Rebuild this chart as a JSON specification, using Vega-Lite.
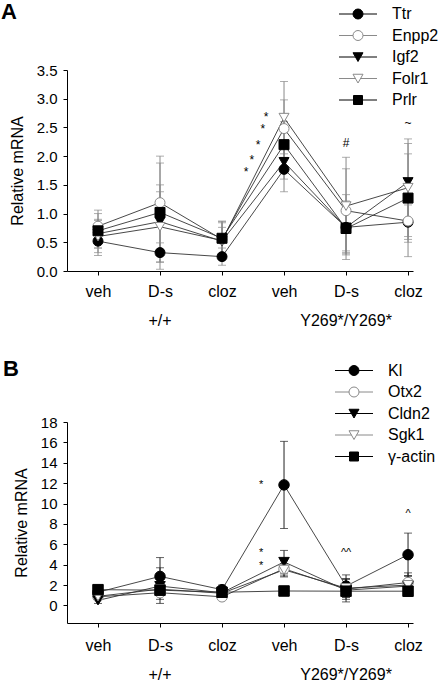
{
  "$schema": "https://vega.github.io/schema/vega-lite/v6.json",
  "padding": {"left": 1, "top": 1, "right": 0, "bottom": 0},
  "config": {
    "font": "Liberation Sans",
    "view": {"stroke": null},
    "axis": {"grid": false, "domainColor": "#000", "tickColor": "#000", "labelColor": "#000", "titleColor": "#000", "labelFontSize": 16, "titleFontSize": 16, "titleFontWeight": "normal", "labelFont": "Liberation Sans", "titleFont": "Liberation Sans", "labelOverlap": false},
    "legend": {"labelFontSize": 16, "labelColor": "#000", "labelFont": "Liberation Sans", "orient": "none", "rowPadding": 5.5, "labelOffset": 26, "symbolStrokeWidth": 1, "symbolSize": 100, "symbolOpacity": 1},
    "title": {"font": "Liberation Sans", "fontSize": 22, "fontWeight": "bold", "color": "#000"}
  },
  "datasets": {
    "A": [
      {"x": 1, "g": "Ttr", "mean": 0.52, "lo": 0.27, "hi": 0.77},
      {"x": 1, "g": "Enpp2", "mean": 0.78, "lo": 0.5, "hi": 1.06},
      {"x": 1, "g": "Igf2", "mean": 0.65, "lo": 0.4, "hi": 0.9},
      {"x": 1, "g": "Folr1", "mean": 0.6, "lo": 0.32, "hi": 0.88},
      {"x": 1, "g": "Prlr", "mean": 0.7, "lo": 0.4, "hi": 1.0},
      {"x": 2, "g": "Ttr", "mean": 0.32, "lo": 0.15, "hi": 0.49},
      {"x": 2, "g": "Enpp2", "mean": 1.19, "lo": 0.38, "hi": 2.0},
      {"x": 2, "g": "Igf2", "mean": 0.86, "lo": 0.35, "hi": 1.38},
      {"x": 2, "g": "Folr1", "mean": 0.77, "lo": 0.03, "hi": 1.5},
      {"x": 2, "g": "Prlr", "mean": 1.02, "lo": 0.16, "hi": 1.88},
      {"x": 3, "g": "Ttr", "mean": 0.25, "lo": 0.1, "hi": 0.4},
      {"x": 3, "g": "Enpp2", "mean": 0.55, "lo": 0.25, "hi": 0.86},
      {"x": 3, "g": "Igf2", "mean": 0.52, "lo": 0.2, "hi": 0.84},
      {"x": 3, "g": "Folr1", "mean": 0.53, "lo": 0.3, "hi": 0.76},
      {"x": 3, "g": "Prlr", "mean": 0.57, "lo": 0.27, "hi": 0.87},
      {"x": 4, "g": "Ttr", "mean": 1.77, "lo": 1.38, "hi": 2.16},
      {"x": 4, "g": "Enpp2", "mean": 2.48, "lo": 1.98, "hi": 2.98},
      {"x": 4, "g": "Igf2", "mean": 1.9, "lo": 1.6, "hi": 2.2},
      {"x": 4, "g": "Folr1", "mean": 2.67, "lo": 2.04, "hi": 3.3},
      {"x": 4, "g": "Prlr", "mean": 2.2, "lo": 1.8, "hi": 2.6},
      {"x": 5, "g": "Ttr", "mean": 0.76, "lo": 0.35, "hi": 1.17},
      {"x": 5, "g": "Enpp2", "mean": 1.05, "lo": 0.32, "hi": 1.78},
      {"x": 5, "g": "Igf2", "mean": 0.76, "lo": 0.3, "hi": 1.22},
      {"x": 5, "g": "Folr1", "mean": 1.13, "lo": 0.28, "hi": 1.98},
      {"x": 5, "g": "Prlr", "mean": 0.74, "lo": 0.2, "hi": 1.33},
      {"x": 6, "g": "Ttr", "mean": 0.85, "lo": 0.55, "hi": 1.15},
      {"x": 6, "g": "Enpp2", "mean": 0.87, "lo": 0.25, "hi": 1.49},
      {"x": 6, "g": "Igf2", "mean": 1.55, "lo": 0.8, "hi": 2.3},
      {"x": 6, "g": "Folr1", "mean": 1.45, "lo": 0.6, "hi": 2.22},
      {"x": 6, "g": "Prlr", "mean": 1.27, "lo": 0.5, "hi": 2.04}
    ],
    "B": [
      {"x": 1, "g": "Kl", "mean": 1.3, "lo": 1.0, "hi": 1.6},
      {"x": 1, "g": "Otx2", "mean": 0.85, "lo": 0.6, "hi": 1.1},
      {"x": 1, "g": "Cldn2", "mean": 0.5, "lo": 0.2, "hi": 0.8},
      {"x": 1, "g": "Sgk1", "mean": 0.9, "lo": 0.6, "hi": 1.2},
      {"x": 1, "g": "γ-actin", "mean": 1.55, "lo": 1.3, "hi": 1.8},
      {"x": 2, "g": "Kl", "mean": 2.85, "lo": 1.0, "hi": 4.7},
      {"x": 2, "g": "Otx2", "mean": 1.25, "lo": 0.6, "hi": 1.9},
      {"x": 2, "g": "Cldn2", "mean": 1.9, "lo": 0.2, "hi": 3.7},
      {"x": 2, "g": "Sgk1", "mean": 1.6, "lo": 1.0, "hi": 2.2},
      {"x": 2, "g": "γ-actin", "mean": 1.5, "lo": 1.2, "hi": 1.8},
      {"x": 3, "g": "Kl", "mean": 1.55, "lo": 1.1, "hi": 2.0},
      {"x": 3, "g": "Otx2", "mean": 0.85, "lo": 0.6, "hi": 1.1},
      {"x": 3, "g": "Cldn2", "mean": 1.25, "lo": 1.0, "hi": 1.5},
      {"x": 3, "g": "Sgk1", "mean": 1.2, "lo": 0.9, "hi": 1.5},
      {"x": 3, "g": "γ-actin", "mean": 1.3, "lo": 1.0, "hi": 1.6},
      {"x": 4, "g": "Kl", "mean": 11.83, "lo": 7.55, "hi": 16.1},
      {"x": 4, "g": "Otx2", "mean": 3.6, "lo": 2.8, "hi": 4.4},
      {"x": 4, "g": "Cldn2", "mean": 4.27, "lo": 3.1, "hi": 5.4},
      {"x": 4, "g": "Sgk1", "mean": 3.5, "lo": 2.9, "hi": 4.1},
      {"x": 4, "g": "γ-actin", "mean": 1.42, "lo": 1.2, "hi": 1.65},
      {"x": 5, "g": "Kl", "mean": 1.9, "lo": 0.8, "hi": 3.0},
      {"x": 5, "g": "Otx2", "mean": 1.6, "lo": 0.6, "hi": 2.6},
      {"x": 5, "g": "Cldn2", "mean": 1.5, "lo": 0.35, "hi": 2.6},
      {"x": 5, "g": "Sgk1", "mean": 1.7, "lo": 0.8, "hi": 2.6},
      {"x": 5, "g": "γ-actin", "mean": 1.4, "lo": 1.1, "hi": 1.7},
      {"x": 6, "g": "Kl", "mean": 4.98, "lo": 2.9, "hi": 7.1},
      {"x": 6, "g": "Otx2", "mean": 2.25, "lo": 1.3, "hi": 3.2},
      {"x": 6, "g": "Cldn2", "mean": 1.9, "lo": 0.9, "hi": 2.9},
      {"x": 6, "g": "Sgk1", "mean": 2.0, "lo": 1.1, "hi": 2.9},
      {"x": 6, "g": "γ-actin", "mean": 1.4, "lo": 1.0, "hi": 1.8}
    ],
    "groups": [
      {"x": 2, "label": "+/+"},
      {"x": 5, "label": "Y269*/Y269*"}
    ],
    "annA": [
      {"x": 3.39, "y": 1.72, "t": "*"},
      {"x": 3.48, "y": 1.94, "t": "*"},
      {"x": 3.58, "y": 2.19, "t": "*"},
      {"x": 3.66, "y": 2.47, "t": "*"},
      {"x": 3.71, "y": 2.68, "t": "*"},
      {"x": 5, "y": 2.23, "t": "#"},
      {"x": 6, "y": 2.58, "t": "~"}
    ],
    "annB": [
      {"x": 3.63, "y": 11.8, "t": "*"},
      {"x": 3.63, "y": 5.1, "t": "*"},
      {"x": 3.63, "y": 3.9, "t": "*"},
      {"x": 5, "y": 5.1, "t": "^^"},
      {"x": 6, "y": 8.95, "t": "^"}
    ]
  },
  "spacing": 28,
  "vconcat": [
    {
      "width": 346,
      "height": 201,
      "title": {"text": "A", "anchor": "start", "frame": "group", "dx": -66, "offset": -18},
      "encoding": {
        "x": {"field": "x", "type": "quantitative", "scale": {"domain": [0.5, 6.08], "nice": false, "zero": false},
          "axis": {"values": [1, 2, 3, 4, 5, 6], "tickCount": 20, "labelExpr": "['veh','D-s','cloz','veh','D-s','cloz'][datum.value - 1]", "tickSize": 4, "labelPadding": 8, "title": null}}
      },
      "resolve": {"scale": {"shape": "independent", "fill": "independent", "stroke": "independent"}},
      "layer": [
        {
          "mark": {"type": "rule", "color": "#000", "strokeWidth": 1},
          "encoding": {
            "x": {"datum": 3.5, "type": "quantitative"},
            "y": {"datum": 0, "type": "quantitative", "scale": {"domain": [0, 3.5], "nice": false, "zero": false},
              "axis": {"values": [0, 0.5, 1, 1.5, 2, 2.5, 3, 3.5], "tickCount": 20, "format": ".1f", "tickSize": 4, "labelPadding": 6, "labelFontSize": 15, "labelOverlap": false, "title": "Relative mRNA", "titlePadding": 11}},
            "y2": {"datum": -0.61}
          }
        },
        {
          "data": {"name": "groups"},
          "mark": {"type": "text", "fontSize": 16, "color": "#000", "baseline": "middle"},
          "encoding": {
            "y": {"datum": -0.87, "type": "quantitative", "scale": {"domain": [0, 3.5], "nice": false, "zero": false}},
            "text": {"field": "label"}
          }
        },
        {
          "data": {"name": "A"},
          "mark": {"type": "rule", "color": "#8a8a8a", "strokeWidth": 1},
          "encoding": {
            "y": {"field": "lo", "type": "quantitative", "scale": {"domain": [0, 3.5], "nice": false, "zero": false}},
            "y2": {"field": "hi"}
          }
        },
        {
          "data": {"name": "A"},
          "mark": {"type": "tick", "orient": "horizontal", "size": 8, "thickness": 1, "color": "#8a8a8a"},
          "encoding": {
            "y": {"field": "lo", "type": "quantitative", "scale": {"domain": [0, 3.5], "nice": false, "zero": false}}
          }
        },
        {
          "data": {"name": "A"},
          "mark": {"type": "tick", "orient": "horizontal", "size": 8, "thickness": 1, "color": "#8a8a8a"},
          "encoding": {
            "y": {"field": "hi", "type": "quantitative", "scale": {"domain": [0, 3.5], "nice": false, "zero": false}}
          }
        },
        {
          "data": {"name": "A"},
          "mark": {"type": "line", "color": "#333", "strokeWidth": 0.9},
          "encoding": {
            "y": {"field": "mean", "type": "quantitative", "scale": {"domain": [0, 3.5], "nice": false, "zero": false}},
            "detail": {"field": "g"}
          }
        },
        {
          "data": {"name": "A"},
          "mark": {"type": "point", "size": 100, "strokeWidth": 1, "opacity": 1},
          "encoding": {
            "y": {"field": "mean", "type": "quantitative", "scale": {"domain": [0, 3.5], "nice": false, "zero": false}},
            "shape": {"field": "g", "type": "nominal", "legend": null,
              "scale": {"domain": ["Ttr", "Enpp2", "Igf2", "Folr1", "Prlr"], "range": ["circle", "circle", "triangle-down", "triangle-down", "square"]}},
            "fill": {"field": "g", "type": "nominal", "legend": null,
              "scale": {"domain": ["Ttr", "Enpp2", "Igf2", "Folr1", "Prlr"], "range": ["#000", "#fff", "#000", "#fff", "#000"]}},
            "stroke": {"field": "g", "type": "nominal", "legend": null,
              "scale": {"domain": ["Ttr", "Enpp2", "Igf2", "Folr1", "Prlr"], "range": ["#000", "#8a8a8a", "#000", "#8a8a8a", "#000"]}}
          }
        },
        {
          "data": {"name": "A"},
          "mark": {"type": "point", "size": 100, "strokeWidth": 1, "opacity": 0},
          "encoding": {
            "y": {"field": "mean", "type": "quantitative", "scale": {"domain": [0, 3.5], "nice": false, "zero": false}},
            "shape": {"field": "g", "type": "nominal", "title": null,
              "scale": {"domain": ["Ttr", "Enpp2", "Igf2", "Folr1", "Prlr"], "range": ["M-3.8,0H-1M1,0A1,1,0,1,0,-1,0A1,1,0,1,0,1,0M1,0H3.8", "M-3.8,0H-1M1,0A1,1,0,1,0,-1,0A1,1,0,1,0,1,0M1,0H3.8", "M-3.8,0H-0.5M0.5,0H3.8M-1,-0.85L1,-0.85L0,0.9Z", "M-3.8,0H-0.5M0.5,0H3.8M-1,-0.85L1,-0.85L0,0.9Z", "M-3.8,0H-0.9M0.9,0H3.8M-0.9,-0.9H0.9V0.9H-0.9Z"]},
              "legend": {"legendX": 283, "legendY": -64, "symbolOpacity": 1}},
            "fill": {"field": "g", "type": "nominal", "title": null,
              "scale": {"domain": ["Ttr", "Enpp2", "Igf2", "Folr1", "Prlr"], "range": ["#000", "#fff", "#000", "#fff", "#000"]},
              "legend": {"legendX": 283, "legendY": -64, "symbolOpacity": 1}},
            "stroke": {"field": "g", "type": "nominal", "title": null,
              "scale": {"domain": ["Ttr", "Enpp2", "Igf2", "Folr1", "Prlr"], "range": ["#000", "#8a8a8a", "#000", "#8a8a8a", "#000"]},
              "legend": {"legendX": 283, "legendY": -64, "symbolOpacity": 1}}
          }
        },
        {
          "data": {"name": "annA"},
          "mark": {"type": "text", "fontSize": 12, "color": "#000", "baseline": "middle"},
          "encoding": {
            "y": {"field": "y", "type": "quantitative", "scale": {"domain": [0, 3.5], "nice": false, "zero": false}},
            "text": {"field": "t"}
          }
        }
      ]
    },
    {
      "width": 346,
      "height": 201,
      "title": {"text": "B", "anchor": "start", "frame": "group", "dx": -64, "offset": -18},
      "encoding": {
        "x": {"field": "x", "type": "quantitative", "scale": {"domain": [0.5, 6.08], "nice": false, "zero": false},
          "axis": {"values": [1, 2, 3, 4, 5, 6], "tickCount": 20, "labelExpr": "['veh','D-s','cloz','veh','D-s','cloz'][datum.value - 1]", "tickSize": 4, "labelPadding": 10, "title": null}}
      },
      "resolve": {"scale": {"shape": "independent", "fill": "independent", "stroke": "independent"}},
      "layer": [
        {
          "mark": {"type": "rule", "color": "#000", "strokeWidth": 1},
          "encoding": {
            "x": {"datum": 3.5, "type": "quantitative"},
            "y": {"datum": -1.72, "type": "quantitative", "scale": {"domain": [-1.72, 18], "nice": false, "zero": false},
              "axis": {"values": [0, 2, 4, 6, 8, 10, 12, 14, 16, 18], "tickCount": 20, "tickSize": 4, "labelPadding": 6, "labelFontSize": 15, "labelOverlap": false, "title": "Relative mRNA", "titlePadding": 11}},
            "y2": {"datum": -5.25}
          }
        },
        {
          "data": {"name": "groups"},
          "mark": {"type": "text", "fontSize": 16, "color": "#000", "baseline": "middle"},
          "encoding": {
            "y": {"datum": -6.85, "type": "quantitative", "scale": {"domain": [-1.72, 18], "nice": false, "zero": false}},
            "text": {"field": "label"}
          }
        },
        {
          "data": {"name": "B"},
          "mark": {"type": "rule", "color": "#222", "strokeWidth": 1},
          "encoding": {
            "y": {"field": "lo", "type": "quantitative", "scale": {"domain": [-1.72, 18], "nice": false, "zero": false}},
            "y2": {"field": "hi"}
          }
        },
        {
          "data": {"name": "B"},
          "mark": {"type": "tick", "orient": "horizontal", "size": 8, "thickness": 1, "color": "#222"},
          "encoding": {
            "y": {"field": "lo", "type": "quantitative", "scale": {"domain": [-1.72, 18], "nice": false, "zero": false}}
          }
        },
        {
          "data": {"name": "B"},
          "mark": {"type": "tick", "orient": "horizontal", "size": 8, "thickness": 1, "color": "#222"},
          "encoding": {
            "y": {"field": "hi", "type": "quantitative", "scale": {"domain": [-1.72, 18], "nice": false, "zero": false}}
          }
        },
        {
          "data": {"name": "B"},
          "mark": {"type": "line", "color": "#333", "strokeWidth": 0.9},
          "encoding": {
            "y": {"field": "mean", "type": "quantitative", "scale": {"domain": [-1.72, 18], "nice": false, "zero": false}},
            "detail": {"field": "g"}
          }
        },
        {
          "data": {"name": "B"},
          "mark": {"type": "point", "size": 110, "strokeWidth": 1, "opacity": 1},
          "encoding": {
            "y": {"field": "mean", "type": "quantitative", "scale": {"domain": [-1.72, 18], "nice": false, "zero": false}},
            "shape": {"field": "g", "type": "nominal", "legend": null,
              "scale": {"domain": ["Kl", "Otx2", "Cldn2", "Sgk1", "γ-actin"], "range": ["circle", "circle", "triangle-down", "triangle-down", "square"]}},
            "fill": {"field": "g", "type": "nominal", "legend": null,
              "scale": {"domain": ["Kl", "Otx2", "Cldn2", "Sgk1", "γ-actin"], "range": ["#000", "#fff", "#000", "#fff", "#000"]}},
            "stroke": {"field": "g", "type": "nominal", "legend": null,
              "scale": {"domain": ["Kl", "Otx2", "Cldn2", "Sgk1", "γ-actin"], "range": ["#000", "#8a8a8a", "#000", "#8a8a8a", "#000"]}}
          }
        },
        {
          "data": {"name": "B"},
          "mark": {"type": "point", "size": 100, "strokeWidth": 1, "opacity": 0},
          "encoding": {
            "y": {"field": "mean", "type": "quantitative", "scale": {"domain": [-1.72, 18], "nice": false, "zero": false}},
            "shape": {"field": "g", "type": "nominal", "title": null,
              "scale": {"domain": ["Kl", "Otx2", "Cldn2", "Sgk1", "γ-actin"], "range": ["M-3.8,0H-1M1,0A1,1,0,1,0,-1,0A1,1,0,1,0,1,0M1,0H3.8", "M-3.8,0H-1M1,0A1,1,0,1,0,-1,0A1,1,0,1,0,1,0M1,0H3.8", "M-3.8,0H-0.5M0.5,0H3.8M-1,-0.85L1,-0.85L0,0.9Z", "M-3.8,0H-0.5M0.5,0H3.8M-1,-0.85L1,-0.85L0,0.9Z", "M-3.8,0H-0.9M0.9,0H3.8M-0.9,-0.9H0.9V0.9H-0.9Z"]},
              "legend": {"legendX": 279, "legendY": -59.5, "symbolOpacity": 1}},
            "fill": {"field": "g", "type": "nominal", "title": null,
              "scale": {"domain": ["Kl", "Otx2", "Cldn2", "Sgk1", "γ-actin"], "range": ["#000", "#fff", "#000", "#fff", "#000"]},
              "legend": {"legendX": 279, "legendY": -59.5, "symbolOpacity": 1}},
            "stroke": {"field": "g", "type": "nominal", "title": null,
              "scale": {"domain": ["Kl", "Otx2", "Cldn2", "Sgk1", "γ-actin"], "range": ["#000", "#8a8a8a", "#000", "#8a8a8a", "#000"]},
              "legend": {"legendX": 279, "legendY": -59.5, "symbolOpacity": 1}}
          }
        },
        {
          "data": {"name": "annB"},
          "mark": {"type": "text", "fontSize": 11, "color": "#000", "baseline": "middle"},
          "encoding": {
            "y": {"field": "y", "type": "quantitative", "scale": {"domain": [-1.72, 18], "nice": false, "zero": false}},
            "text": {"field": "t"}
          }
        }
      ]
    }
  ],
  "resolve": {"scale": {"shape": "independent", "fill": "independent", "stroke": "independent"}, "legend": {"shape": "independent", "fill": "independent", "stroke": "independent"}}
}
